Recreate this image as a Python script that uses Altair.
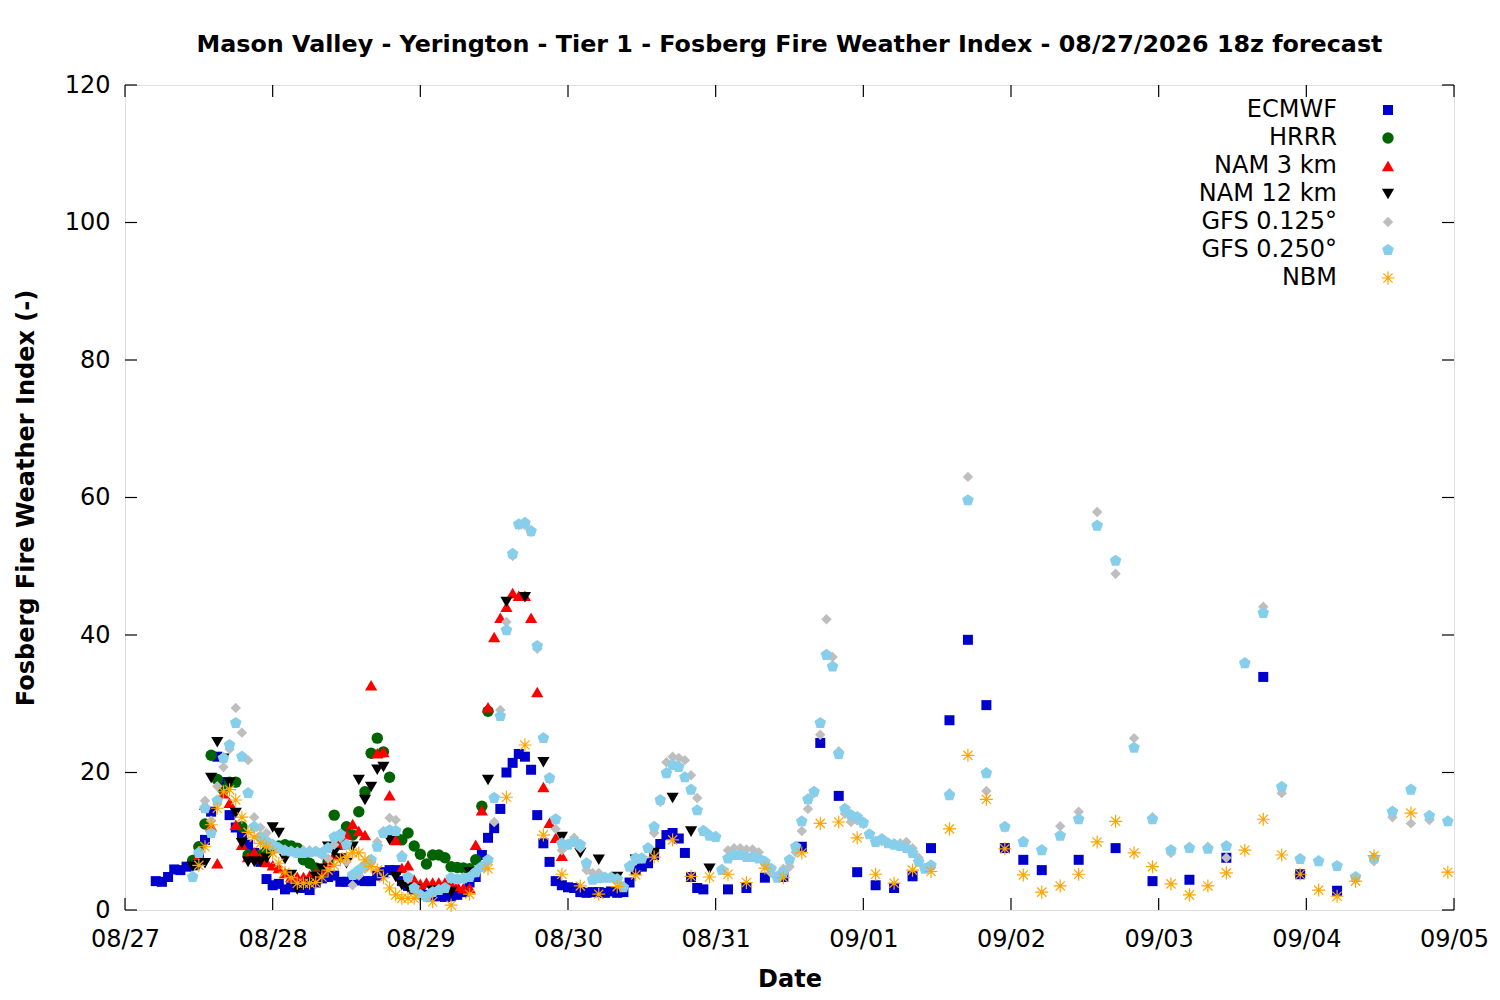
import altair as alt
import pandas as pd

TITLE = "Mason Valley - Yerington - Tier 1 - Fosberg Fire Weather Index - 08/27/2026 18z forecast"
DATE_LABELS = ["08/27", "08/28", "08/29", "08/30", "08/31", "09/01", "09/02", "09/03", "09/04", "09/05"]
X_TICKS = [0, 24, 48, 72, 96, 120, 144, 168, 192, 216]
Y_TICKS = [0, 20, 40, 60, 80, 100, 120]
MODELS = ["ECMWF", "HRRR", "NAM 3 km", "NAM 12 km", "GFS 0.125°", "GFS 0.250°", "NBM"]

# forecast hours after 08/27 00z; each block: (first hour, step in hours, values)
ECMWF = [
    (5, 1, [4.2, 4.1, 4.8, 5.9, 5.8, 6.3, 6.5, 7.6, 10.2, 14.3,
            22.3, 18.6, 13.8, 12.0, 11.0, 9.5, 8.3, 7.0, 4.5, 3.6,
            3.8, 3.0, 3.3, 3.5, 3.2, 2.9, 4.0, 4.6, 4.8, 5.0,
            4.1, 4.1, 4.3, 4.3, 4.2, 4.2, 5.0, 5.5, 5.8, 5.8,
            4.2, 3.5, 3.0, 2.5, 2.2, 2.0, 2.0, 1.9, 2.0, 2.2,
            2.6, 4.0, 4.8, 8.0, 10.5, 11.9, 14.7, 20.0, 21.4, 22.7,
            22.3, 20.4, 13.8, 9.7, 7.0, 4.2, 3.6, 3.3, 3.2, 2.6,
            2.5, 2.6, 2.6, 2.5, 2.7, 2.5, 2.6, 4.0, 5.8, 6.3,
            6.8, 8.0, 9.6, 10.9, 11.2, 10.4, 8.3, 4.8, 3.2, 3.0]),
    (98, 3, [3.0, 3.2, 4.7, 4.8, 9.2, 24.3, 16.6, 5.5, 3.6, 3.2,
             4.9, 9.0, 27.6, 39.3, 29.8, 9.0, 7.3, 5.8]),
    (155, 6, [7.3, 9.0, 4.2, 4.4, 7.6, 33.9, 5.2, 2.8]),
]
HRRR = [
    (11, 1, [7.2, 9.2, 12.5, 22.5, 19.0, 17.5, 18.6, 18.6, 12.1, 8.0,
             7.8, 8.0, 8.5, 9.0, 9.3, 9.5, 9.3, 9.0, 7.3, 6.8,
             6.1, 5.5, 7.0, 13.8, 9.7, 12.1, 10.9, 14.3, 17.2, 22.8,
             25.0, 23.0, 19.3, 10.6, 10.2, 11.2, 9.3, 8.1, 6.7, 8.0,
             8.0, 7.6, 6.3, 6.2, 6.1, 6.0, 7.3, 15.1, 28.9]),
]
NAM3 = [
    (12, 1, [8.0, 15.3, 12.2, 6.8, 17.0, 15.6, 12.4, 9.5, 7.7, 8.4,
             7.6, 7.0, 6.5, 6.1, 5.4, 4.8, 4.8, 4.8, 5.0, 5.3,
             5.8, 7.0, 8.0, 9.5, 11.0, 12.5, 11.5, 10.9, 32.7, 22.8,
             23.0, 16.7, 10.2, 6.1, 6.5, 4.4, 3.8, 4.0, 4.0, 4.0,
             4.0, 3.8, 3.5, 3.2, 3.2, 9.5, 14.5, 29.5, 39.7, 42.5,
             44.1, 46.1, 45.7, 45.7, 42.5, 31.7, 17.9, 12.7, 10.5, 7.9]),
]
NAM12 = [
    (11, 1, [6.3, 6.5, 6.8, 19.2, 24.4, 22.0, 18.5, 14.1, 9.7, 7.0,
             7.0, 7.0, 7.5, 12.0, 11.2, 7.4, 5.1, 3.0, 3.5, 4.0,
             4.8, 6.0, 9.2, 8.3, 7.5, 6.8, 9.2, 18.9, 16.0, 17.9,
             20.4, 20.8, 10.2, 4.8, 3.6, 3.2]),
    (47, 3, [3.0, 2.8, 2.6, 5.5, 18.9, 44.8, 45.5, 21.5, 10.6, 8.3,
             7.3, 4.8, 7.3, 8.3, 16.3, 11.4, 6.0]),
]
GFS125 = [
    (11, 1, [5.0, 8.5, 15.9, 13.0, 18.0, 20.8, 23.4, 29.4, 25.8, 21.8,
             13.5, 12.0, 11.2, 9.5, 9.0, 8.8, 8.6, 8.5, 8.7, 8.7,
             8.5, 8.0, 7.5, 9.5, 10.5, 7.0, 3.6, 5.0, 6.0, 7.0,
             9.9, 11.5, 13.4, 13.1, 8.0, 4.5, 3.0, 2.0, 1.8, 2.5,
             3.0, 3.2, 4.5, 4.4, 4.5, 4.8, 5.5, 6.2, 7.0, 12.8,
             29.1, 41.9, 51.5, 56.0, 56.0, 55.0, 38.0, 25.0, 19.0, 11.8,
             8.7, 9.5, 10.5, 9.0, 5.8, 5.4, 5.4, 4.8, 4.8, 4.5,
             3.5, 6.5, 7.2, 7.5, 9.0, 11.2, 15.7, 21.5, 22.3, 22.1,
             21.8, 19.6, 16.3, 11.5, 11.0, 10.8, 6.0, 8.7, 9.0, 9.0,
             8.8, 8.8, 8.4, 7.0, 5.4, 5.0, 6.0, 6.3, 8.4, 11.5,
             14.7, 17.0, 25.5, 42.3, 36.8, 23.1, 14.0, 12.8, 13.0, 12.5,
             11.0, 10.0, 10.0, 9.8, 9.7, 9.7, 9.9, 9.0, 7.6, 6.1, 6.5]),
    (134, 3, [17.0, 63.0, 17.3, 12.0, 9.9, 8.7, 12.2, 14.3, 57.9, 48.9,
              25.0, 13.5, 8.3, 9.2, 9.2, 7.6, 35.9, 44.1, 17.0, 7.4,
              7.1, 6.4, 4.8, 7.1, 13.5, 12.6, 13.1, 12.9]),
]
GFS250 = [
    (11, 1, [4.8, 8.3, 14.8, 11.2, 15.9, 22.1, 24.0, 27.2, 22.3, 17.0,
             12.1, 10.6, 10.0, 9.5, 9.0, 8.6, 8.5, 8.3, 8.3, 8.4,
             8.5, 8.3, 9.0, 10.6, 11.0, 9.5, 5.1, 5.8, 6.5, 7.3,
             9.2, 11.2, 11.6, 11.5, 7.7, 4.8, 3.2, 2.2, 1.9, 2.6,
             2.9, 3.2, 4.7, 4.5, 4.6, 4.8, 5.5, 6.3, 7.3, 16.3,
             28.2, 40.7, 51.8, 56.1, 56.3, 55.1, 38.4, 25.0, 19.2, 13.2,
             9.7, 9.5, 9.9, 9.5, 6.8, 4.4, 4.6, 4.7, 4.7, 4.5,
             3.3, 6.3, 7.5, 7.5, 9.0, 12.1, 16.0, 19.9, 21.1, 20.8,
             19.3, 17.5, 14.5, 11.5, 10.8, 10.6, 5.8, 7.5, 8.0, 8.0,
             7.7, 7.7, 7.5, 7.0, 6.0, 4.7, 5.5, 7.3, 9.2, 12.9,
             16.1, 17.2, 27.2, 37.1, 35.4, 22.7, 14.7, 13.8, 13.5, 12.7,
             11.0, 9.9, 10.3, 9.7, 9.5, 9.3, 9.0, 8.3, 7.0, 6.0, 6.5]),
    (134, 3, [16.7, 59.6, 19.9, 12.1, 9.9, 8.7, 10.8, 13.2, 55.9, 50.8,
              23.6, 13.2, 8.7, 9.0, 8.9, 9.3, 35.9, 43.2, 17.9, 7.4,
              7.1, 6.4, 4.8, 7.5, 14.3, 17.5, 13.7, 12.9]),
]
NBM = [
    (12, 1, [6.5, 9.2, 12.4, 14.8, 17.2, 17.5, 16.0, 13.5, 11.3, 10.6,
             9.7, 9.2, 8.3, 6.8, 5.5, 4.7, 3.9, 3.9, 3.9, 4.0,
             4.8, 5.8, 6.5, 7.3, 7.7, 8.3, 8.3, 7.3, 6.3, 5.8,
             4.7, 3.2, 2.2, 1.7, 1.7, 1.7]),
    (50, 3, [1.2, 0.7, 2.3, 6.0, 16.4, 24.0, 10.9, 5.2, 3.5, 2.3,
             3.4, 5.1, 7.7, 10.2, 4.9, 4.8, 5.2, 4.0, 6.1, 4.7,
             8.3, 12.6, 12.8, 10.5, 5.2, 3.9, 5.8, 5.6, 11.8, 22.5,
             16.1, 8.9, 5.1, 2.6, 3.5, 5.2, 9.9, 12.9, 8.3, 6.3,
             3.8, 2.2, 3.5, 5.4, 8.7, 13.2, 8.0, 5.2, 2.9, 2.0,
             4.2, 7.9]),
    (209, 6, [14.1, 5.5]),
]

SERIES = [ECMWF, HRRR, NAM3, NAM12, GFS125, GFS250, NBM]

PENTAGON = "M0,-1L0.951,-0.309L0.588,0.809L-0.588,0.809L-0.951,-0.309Z"
STAR = "M0,-1L0,1M-1,0L1,0M-0.707,-0.707L0.707,0.707M-0.707,0.707L0.707,-0.707"
STYLES = [
    dict(shape="square", filled=True, color="#0000cc", size=100),
    dict(shape="circle", filled=True, color="#006400", size=130),
    dict(shape="triangle-up", filled=True, color="#ff0000", size=150),
    dict(shape="triangle-down", filled=True, color="#000000", size=150),
    dict(shape="diamond", filled=True, color="#bebebe", size=110),
    dict(shape=PENTAGON, filled=True, color="#87ceeb", size=150),
    dict(shape=STAR, filled=False, color="#ffa500", size=170, strokeWidth=1.2),
]

FONT = "DejaVu Sans"
FS = 24
W, H = 1329, 825
XMAX, YMAX = 216, 120
TICK_PX = 12


def frame(blocks):
    rows = []
    for start, step, vals in blocks:
        for i, v in enumerate(vals):
            rows.append({"t": start + i * step, "v": v})
    return pd.DataFrame(rows)


label_expr = "[" + ",".join("'%s'" % d for d in DATE_LABELS) + "][round(datum.value / 24)]"
xscale = alt.Scale(domain=[0, XMAX], nice=False, zero=False)
yscale = alt.Scale(domain=[0, YMAX], nice=False)
xaxis = alt.Axis(values=X_TICKS, labelExpr=label_expr, tickSize=0, domain=False, grid=False,
                 labelFont=FONT, labelFontSize=FS, labelColor="black", labelPadding=17,
                 labelFlush=False, labelOverlap=False,
                 title="Date", titleFont=FONT, titleFontSize=FS, titleFontWeight="bold",
                 titleColor="black", titlePadding=16)
yaxis = alt.Axis(values=Y_TICKS, tickSize=0, domain=False, grid=False,
                 labelFont=FONT, labelFontSize=FS, labelColor="black", labelPadding=15,
                 labelFlush=False, labelOverlap=False,
                 title="Fosberg Fire Weather Index (-)", titleFont=FONT, titleFontSize=FS,
                 titleFontWeight="bold", titleColor="black", titlePadding=26)

X = alt.X("t:Q", scale=xscale, axis=xaxis)
Y = alt.Y("v:Q", scale=yscale, axis=yaxis)

data_layers = []
for blocks, st in zip(SERIES, STYLES):
    data_layers.append(
        alt.Chart(frame(blocks)).mark_point(opacity=1, **st).encode(x=X, y=Y)
    )

# inward tick marks on all four sides
ty = TICK_PX * YMAX / H
tx = TICK_PX * XMAX / W
vt = pd.DataFrame([{"t": t, "v": 0, "v2": ty} for t in X_TICKS] +
                  [{"t": t, "v": YMAX - ty, "v2": YMAX} for t in X_TICKS])
ht = pd.DataFrame([{"t": 0, "t2": tx, "v": y} for y in Y_TICKS] +
                  [{"t": XMAX - tx, "t2": XMAX, "v": y} for y in Y_TICKS])
vticks = alt.Chart(vt).mark_rule(color="black", strokeWidth=1.2).encode(x=X, y=Y, y2="v2:Q")
hticks = alt.Chart(ht).mark_rule(color="black", strokeWidth=1.2).encode(x=X, x2="t2:Q", y=Y)

plot = alt.layer(*data_layers, vticks, hticks)

# legend: label right-aligned, symbol to its right
leg_rows = pd.DataFrame({"name": MODELS, "row": list(range(len(MODELS)))})
leg_rows["py"] = 25 + 28 * leg_rows["row"]
legend_layers = [
    alt.Chart(leg_rows).mark_text(align="right", baseline="middle", font=FONT, fontSize=FS,
                                  color="black").encode(
        x=alt.value(1212), y=alt.Y("py:Q", scale=None, axis=None), text="name:N")
]
for i, st in enumerate(STYLES):
    legend_layers.append(
        alt.Chart(leg_rows[leg_rows["row"] == i]).mark_point(opacity=1, **st).encode(
            x=alt.value(1263), y=alt.Y("py:Q", scale=None, axis=None))
    )
legend = alt.layer(*legend_layers)

chart = alt.layer(plot, legend).resolve_scale(x="independent", y="independent").properties(
    width=W, height=H,
    title=alt.Title(TITLE, font=FONT, fontSize=23.8, fontWeight="bold", color="black",
                    anchor="middle", baseline="alphabetic", offset=-3),
    autosize=alt.AutoSizeParams(type="none"),
    padding={"left": 117, "top": 77, "right": 38, "bottom": 82},
).configure_view(stroke="black", strokeWidth=1.2).configure(background="white")

chart.save("out.html", embed_options={"renderer": "svg", "actions": False})
